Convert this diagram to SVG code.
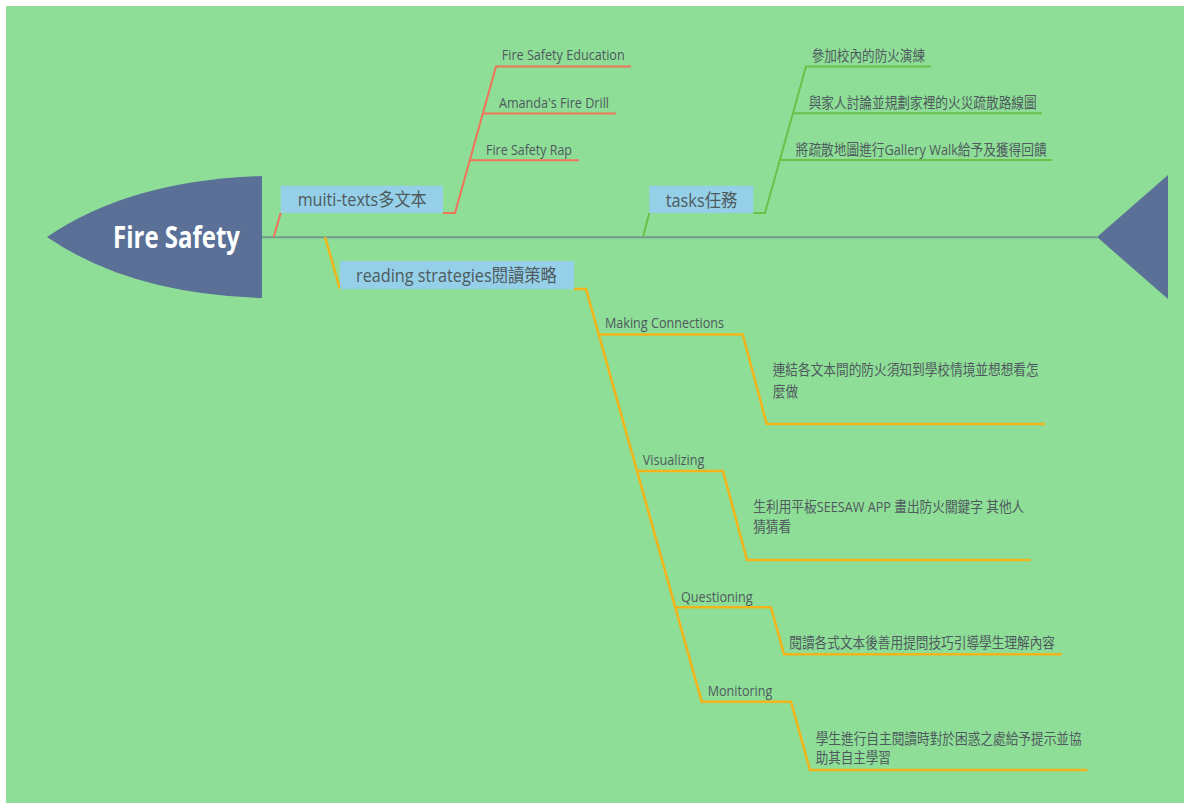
<svg xmlns="http://www.w3.org/2000/svg" width="1184" height="803" viewBox="0 0 1184 803">
<style>
.t{font-family:"Open Sans","Noto Sans CJK TC","Noto Sans",sans-serif;fill:#4E5A5E;}
.s{font-size:14.5px;}
.b{font-size:18px;}
.red{stroke:#F0735A;stroke-width:2;fill:none;}
.grn{stroke:#6CC04A;stroke-width:2;fill:none;}
.org{stroke:#F2B418;stroke-width:2.5;fill:none;}
.box{fill:#95D0E8;}
</style>
<rect x="0" y="0" width="1184" height="803" fill="#FFFFFF"/>
<rect x="6" y="6" width="1178" height="797" fill="#8EDE97"/>
<g id="connectors">
<line x1="262" y1="237.3" x2="1097" y2="237.3" stroke="#6F9C8B" stroke-width="2"/>
<polyline class="red" points="273.7,237 280.7,213"/>
<polyline class="red" points="443,213 455,213 496,66.5 631,66.5"/>
<line class="red" x1="482.6" y1="113.5" x2="615.7" y2="113.5"/>
<line class="red" x1="470" y1="160.3" x2="579" y2="160.3"/>
<polyline class="grn" points="643,237 649.3,213"/>
<polyline class="grn" points="753.3,213 765,213 806,66.5 931,66.5"/>
<line class="grn" x1="793" y1="113.3" x2="1042" y2="113.3"/>
<line class="grn" x1="780.5" y1="160" x2="1051.7" y2="160"/>
<polyline class="org" points="325,237 340,289"/>
<polyline class="org" points="574,289 586,289 701.7,701.7 791,701.7 810,770 1087.3,770"/>
<polyline class="org" points="599.3,334.5 742.7,334.5 766.7,424 1045,424"/>
<polyline class="org" points="637.7,471 723,471 747,560 1030.7,560"/>
<polyline class="org" points="675.7,607.3 771,607.3 784,654.3 1061.7,654.3"/>
</g>
<g id="head">
<path d="M47,237 Q130,180 262,176 L262,298 Q130,294 47,237 Z" fill="#5A7097"/>
<text x="113" y="248.3" textLength="127" lengthAdjust="spacingAndGlyphs" font-family="'Open Sans','Noto Sans',sans-serif" font-weight="bold" font-size="31" fill="#FFFFFF">Fire Safety</text>
</g>
<g id="tail">
<polygon points="1097,237 1168,175 1168,299" fill="#5A7097"/>
</g>
<g id="muiti-texts">
<rect class="box" x="280.7" y="185.7" width="162.3" height="27.3"/>
<text class="t b" x="297.7" y="205.5" textLength="129" lengthAdjust="spacingAndGlyphs">muiti-texts多文本</text>
</g>
<g id="fire-safety-education"><text class="t s" x="501.7" y="60" textLength="123" lengthAdjust="spacingAndGlyphs">Fire Safety Education</text></g>
<g id="amanda"><text class="t s" x="499" y="107.5" textLength="110" lengthAdjust="spacingAndGlyphs">Amanda's Fire Drill</text></g>
<g id="rap"><text class="t s" x="486" y="154.5" textLength="86" lengthAdjust="spacingAndGlyphs">Fire Safety Rap</text></g>
<g id="tasks">
<rect class="box" x="649.3" y="185.7" width="104" height="27.3"/>
<text class="t b" x="665.7" y="206.5" textLength="71.6" lengthAdjust="spacingAndGlyphs">tasks任務</text>
</g>
<g id="task1"><text class="t s" x="811.7" y="61" textLength="113.3" lengthAdjust="spacingAndGlyphs">參加校內的防火演練</text></g>
<g id="task2"><text class="t s" x="808.7" y="108" textLength="228" lengthAdjust="spacingAndGlyphs">與家人討論並規劃家裡的火災疏散路線圖</text></g>
<g id="task3"><text class="t s" x="795.7" y="155" textLength="251" lengthAdjust="spacingAndGlyphs">將疏散地圖進行Gallery Walk給予及獲得回饋</text></g>
<g id="reading-strategies">
<rect class="box" x="340" y="261" width="234" height="28"/>
<text class="t b" x="356" y="281.7" textLength="200.7" lengthAdjust="spacingAndGlyphs">reading strategies閱讀策略</text>
</g>
<g id="making-connections">
<text class="t s" x="605" y="327.7" textLength="119" lengthAdjust="spacingAndGlyphs">Making Connections</text>
</g>
<g id="making-connections-detail">
<text class="t s" x="772.7" y="375" textLength="266" lengthAdjust="spacingAndGlyphs">連結各文本間的防火須知到學校情境並想想看怎</text>
<text class="t s" x="772.7" y="396.7" textLength="25.4" lengthAdjust="spacingAndGlyphs">麼做</text>
</g>
<g id="visualizing">
<text class="t s" x="642.7" y="465" textLength="61.6" lengthAdjust="spacingAndGlyphs">Visualizing</text>
</g>
<g id="visualizing-detail">
<text class="t s" x="753.3" y="511.7" textLength="271" lengthAdjust="spacingAndGlyphs">生利用平板SEESAW APP 畫出防火關鍵字 其他人</text>
<text class="t s" x="753.3" y="531.7" textLength="37.7" lengthAdjust="spacingAndGlyphs">猜猜看</text>
</g>
<g id="questioning">
<text class="t s" x="681" y="601.7" textLength="71.7" lengthAdjust="spacingAndGlyphs">Questioning</text>
</g>
<g id="questioning-detail">
<text class="t s" x="789.3" y="648.3" textLength="265.7" lengthAdjust="spacingAndGlyphs">閱讀各式文本後善用提問技巧引導學生理解內容</text>
</g>
<g id="monitoring">
<text class="t s" x="707.7" y="696" textLength="64.6" lengthAdjust="spacingAndGlyphs">Monitoring</text>
</g>
<g id="monitoring-detail">
<text class="t s" x="815.7" y="744" textLength="266" lengthAdjust="spacingAndGlyphs">學生進行自主閱讀時對於困惑之處給予提示並協</text>
<text class="t s" x="815.7" y="763.3" textLength="75" lengthAdjust="spacingAndGlyphs">助其自主學習</text>
</g>
</svg>
